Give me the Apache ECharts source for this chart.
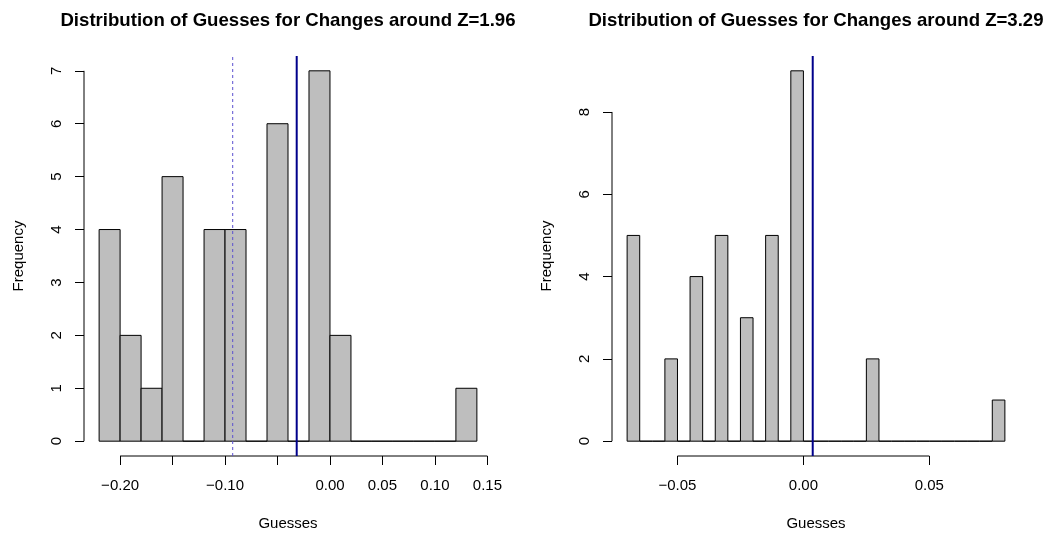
<!DOCTYPE html>
<html>
<head>
<meta charset="utf-8">
<script src="https://cdn.jsdelivr.net/npm/echarts@6/dist/echarts.min.js"></script>
<style>
html,body{margin:0;padding:0;background:#fff;}
#c{width:1049px;height:535px;}
</style>
</head>
<body>
<div id="c"></div>
<script>
// ---- data ----
const leftTitle = 'Distribution of Guesses for Changes around Z=1.96';
const rightTitle = 'Distribution of Guesses for Changes around Z=3.29';
const leftBreaks = [-0.22,-0.20,-0.18,-0.16,-0.14,-0.12,-0.10,-0.08,-0.06,-0.04,-0.02,0.00,0.02,0.04,0.06,0.08,0.10,0.12,0.14];
const leftCounts = [4,2,1,5,0,4,4,0,6,0,7,2,0,0,0,0,0,1];
const rightBreaks = [-0.070,-0.065,-0.060,-0.055,-0.050,-0.045,-0.040,-0.035,-0.030,-0.025,-0.020,-0.015,-0.010,-0.005,0.000,0.005,0.010,0.015,0.020,0.025,0.030,0.035,0.040,0.045,0.050,0.055,0.060,0.065,0.070,0.075,0.080];
const rightCounts = [5,0,0,2,0,4,0,5,0,3,0,5,0,9,0,0,0,0,0,2,0,0,0,0,0,0,0,0,0,1];
const leftXTicks = [-0.20,-0.15,-0.10,-0.05,0.00,0.05,0.10,0.15];
const leftXLabels = [-0.20,-0.10,0.00,0.05,0.10,0.15];
const leftYTicks = [0,1,2,3,4,5,6,7];
const rightXTicks = [-0.05,0.00,0.05];
const rightXLabels = [-0.05,0.00,0.05];
const rightYTicks = [0,2,4,6,8];
const leftSolidLine = -0.0317;
const leftDashedLine = -0.0927;
const rightSolidLine = 0.0037;

// R-style 4% range extension
function ext(a, b){ const d = (b - a) * 0.04; return [a - d, b + d]; }
const lx = ext(leftBreaks[0], leftBreaks[leftBreaks.length-1]);
const ly = ext(0, Math.max.apply(null, leftCounts));
const rx = ext(rightBreaks[0], rightBreaks[rightBreaks.length-1]);
const ry = ext(0, Math.max.apply(null, rightCounts));

function bins(br, ct){ return ct.map((c,i)=>[br[i], br[i+1], c]); }
function fmt(v){ const s = Math.abs(v).toFixed(2); return (v < -1e-9 ? '\u2212' : '') + s; }

const FONT = 'Liberation Sans, Arial, Helvetica, sans-serif';
const renderBar = function(params, api){
  const p0 = api.coord([api.value(0), api.value(2)]);
  const p1 = api.coord([api.value(1), 0]);
  return {type:'rect', shape:{x:p0[0], y:p0[1], width:p1[0]-p0[0], height:p1[1]-p0[1]},
    style:{fill:'#BEBEBE', stroke:'#000', lineWidth:1}};
};

function xAxisDef(idx, range, ticks, labels){
  return {type:'value', gridIndex:idx, min:range[0], max:range[1], position:'bottom',
    axisLine:{show:false, onZero:false}, splitLine:{show:false},
    axisTick:{show:true, inside:false, customValues:ticks, length:9, lineStyle:{color:'#000', width:1}},
    axisLabel:{show:true, customValues:labels, formatter:fmt, color:'#000', fontSize:15, fontFamily:FONT, margin:22},
    name:'Guesses', nameLocation:'middle', nameGap:60,
    nameTextStyle:{color:'#000', fontSize:15, fontFamily:FONT}};
}
function yAxisDef(idx, range, ticks){
  return {type:'value', gridIndex:idx, min:range[0], max:range[1], position:'left',
    axisLine:{show:false, onZero:false}, splitLine:{show:false},
    axisTick:{show:true, inside:false, customValues:ticks, length:9, lineStyle:{color:'#000', width:1}},
    axisLabel:{show:true, customValues:ticks, rotate:90, color:'#000', fontSize:15, fontFamily:FONT, margin:20},
    name:'Frequency', nameLocation:'middle', nameGap:58,
    nameTextStyle:{color:'#000', fontSize:15, fontFamily:FONT}};
}
function segment(idx, pts, color, width, type){
  return {type:'line', xAxisIndex:idx, yAxisIndex:idx, data:pts, symbol:'none', silent:true, clip:false,
    animation:false, lineStyle:{color:color, width:width, type:type||'solid'}, z:5};
}

const option = {
  animation:false,
  title:[
    {text:leftTitle, left:283, top:6, textAlign:'center', textStyle:{fontSize:18.6, fontWeight:'bold', color:'#000', fontFamily:FONT}},
    {text:rightTitle, left:811, top:6, textAlign:'center', textStyle:{fontSize:18.6, fontWeight:'bold', color:'#000', fontFamily:FONT}}
  ],
  grid:[
    {left:84, top:56, width:408, height:400, containLabel:false, outerBoundsMode:'none'},
    {left:612, top:56, width:408, height:400, containLabel:false, outerBoundsMode:'none'}
  ],
  xAxis:[xAxisDef(0, lx, leftXTicks, leftXLabels), xAxisDef(1, rx, rightXTicks, rightXLabels)],
  yAxis:[yAxisDef(0, ly, leftYTicks), yAxisDef(1, ry, rightYTicks)],
  series:[
    {type:'custom', xAxisIndex:0, yAxisIndex:0, data:bins(leftBreaks,leftCounts), renderItem:renderBar, encode:{x:[0,1], y:2}, clip:false, z:2},
    {type:'custom', xAxisIndex:1, yAxisIndex:1, data:bins(rightBreaks,rightCounts), renderItem:renderBar, encode:{x:[0,1], y:2}, clip:false, z:2},
    // axis lines (R style, spanning ticks only)
    segment(0, [[leftXTicks[0], ly[0]],[leftXTicks[leftXTicks.length-1], ly[0]]], '#000', 1),
    segment(0, [[lx[0], leftYTicks[0]],[lx[0], leftYTicks[leftYTicks.length-1]]], '#000', 1),
    segment(1, [[rightXTicks[0], ry[0]],[rightXTicks[rightXTicks.length-1], ry[0]]], '#000', 1),
    segment(1, [[rx[0], rightYTicks[0]],[rx[0], rightYTicks[rightYTicks.length-1]]], '#000', 1),
    // reference lines
    segment(0, [[leftDashedLine, ly[0]],[leftDashedLine, ly[1]]], '#5B50D0', 1, [3,3]),
    segment(0, [[leftSolidLine, ly[0]],[leftSolidLine, ly[1]]], '#00008B', 2),
    segment(1, [[rightSolidLine, ry[0]],[rightSolidLine, ry[1]]], '#00008B', 2)
  ]
};
const chart = echarts.init(document.getElementById('c'), null, {renderer:'canvas'});
chart.setOption(option);
</script>
</body>
</html>
